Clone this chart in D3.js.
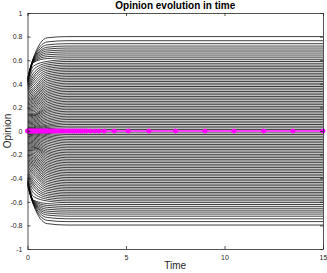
<!DOCTYPE html>
<html>
<head>
    <title>Opinion evolution in time</title>
    <script src="https://d3js.org/d3.v7.min.js"></script>
    <style>
        body { margin: 0; background: #fff; }
        text { font-family: "Liberation Sans", Arial, sans-serif; }
    </style>
</head>
<body>
<div id="chart"></div>
<script>
    const knotTimes = [0, 0.3, 1, 2, 5, 15];

    // upper half trajectories (opinion at each knot time)
    const upStart = [0.45, 0.445, 0.44, 0.435, 0.43, 0.425, 0.42, 0.415, 0.41, 0.405,
        0.40, 0.39, 0.38, 0.37, 0.36, 0.35, 0.34, 0.33, 0.32, 0.31, 0.30, 0.29, 0.28, 0.27, 0.26,
        0.25, 0.24, 0.23, 0.22, 0.21, 0.20, 0.19, 0.18, 0.17, 0.16, 0.15, 0.14, 0.13,
        0.12, 0.11, 0.10, 0.09, 0.08, 0.07, 0.06, 0.05, 0.04, 0.03, 0.025, 0.02, 0.015, 0.01, 0.005];
    const upT03 = [0.62, 0.615, 0.61, 0.605, 0.60, 0.596, 0.592, 0.588, 0.584, 0.58,
        0.55, 0.52, 0.49, 0.465, 0.445, 0.425, 0.405, 0.385, 0.365, 0.35, 0.335, 0.32, 0.305, 0.292, 0.28,
        0.27, 0.258, 0.246, 0.234, 0.222, 0.21, 0.198, 0.186, 0.174, 0.162, 0.15, 0.14, 0.132,
        0.125, 0.115, 0.105, 0.095, 0.085, 0.075, 0.065, 0.055, 0.045, 0.035, 0.028, 0.021, 0.015, 0.009, 0.004];
    const upT1 = [0.79, 0.755, 0.73, 0.71, 0.694, 0.678, 0.662, 0.646, 0.63, 0.614,
        0.59, 0.575, 0.56, 0.545, 0.53, 0.515, 0.5, 0.485, 0.47, 0.455, 0.44, 0.425, 0.41, 0.395, 0.38,
        0.365, 0.35, 0.336, 0.322, 0.308, 0.294, 0.28, 0.266, 0.252, 0.238, 0.224, 0.21, 0.196,
        0.183, 0.17, 0.157, 0.143, 0.129, 0.115, 0.101, 0.088, 0.075, 0.062, 0.05, 0.04, 0.03, 0.02, 0.01];
    const upFinal = [0.80, 0.765, 0.74, 0.72, 0.703, 0.686, 0.67, 0.653, 0.636, 0.62,
        0.604, 0.589, 0.574, 0.559, 0.545, 0.531, 0.517, 0.503, 0.489, 0.475, 0.461, 0.447, 0.433, 0.419, 0.405,
        0.391, 0.377, 0.363, 0.349, 0.335, 0.321, 0.307, 0.293, 0.279, 0.265, 0.251, 0.237, 0.223,
        0.209, 0.195, 0.181, 0.167, 0.153, 0.139, 0.125, 0.111, 0.097, 0.083, 0.069, 0.055, 0.041, 0.027, 0.013];

    // lower half trajectories
    const loStart = [-0.46, -0.455, -0.45, -0.445, -0.44, -0.435, -0.43, -0.425, -0.42, -0.415,
        -0.405, -0.395, -0.385, -0.375, -0.365, -0.355, -0.345, -0.335, -0.325, -0.315, -0.305, -0.295, -0.285, -0.275, -0.265,
        -0.255, -0.245, -0.235, -0.225, -0.215, -0.205, -0.195, -0.185, -0.175, -0.165, -0.155, -0.145, -0.135,
        -0.125, -0.115, -0.105, -0.095, -0.085, -0.075, -0.065, -0.055, -0.045, -0.035, -0.028, -0.021, -0.014, -0.008, -0.003];
    const loT03 = [-0.625, -0.62, -0.615, -0.61, -0.606, -0.602, -0.598, -0.594, -0.59, -0.586,
        -0.555, -0.525, -0.495, -0.47, -0.45, -0.43, -0.41, -0.39, -0.37, -0.355, -0.34, -0.325, -0.31, -0.297, -0.285,
        -0.274, -0.262, -0.25, -0.238, -0.226, -0.214, -0.202, -0.19, -0.178, -0.166, -0.155, -0.145, -0.137,
        -0.13, -0.12, -0.11, -0.1, -0.09, -0.08, -0.07, -0.06, -0.05, -0.04, -0.031, -0.023, -0.015, -0.009, -0.003];
    const loT1 = [-0.785, -0.757, -0.733, -0.712, -0.695, -0.679, -0.663, -0.647, -0.631, -0.615,
        -0.593, -0.578, -0.563, -0.548, -0.533, -0.518, -0.503, -0.488, -0.473, -0.458, -0.443, -0.428, -0.413, -0.398, -0.383,
        -0.368, -0.353, -0.339, -0.325, -0.311, -0.297, -0.283, -0.269, -0.255, -0.241, -0.227, -0.213, -0.199,
        -0.186, -0.173, -0.16, -0.146, -0.132, -0.118, -0.104, -0.09, -0.077, -0.064, -0.052, -0.041, -0.03, -0.02, -0.01];
    const loFinal = [-0.797, -0.768, -0.744, -0.722, -0.704, -0.687, -0.671, -0.655, -0.639, -0.623,
        -0.607, -0.592, -0.577, -0.562, -0.548, -0.534, -0.52, -0.506, -0.492, -0.478, -0.464, -0.45, -0.436, -0.422, -0.408,
        -0.394, -0.38, -0.366, -0.352, -0.338, -0.324, -0.31, -0.296, -0.282, -0.268, -0.254, -0.24, -0.226,
        -0.212, -0.198, -0.184, -0.17, -0.156, -0.142, -0.128, -0.114, -0.1, -0.086, -0.072, -0.058, -0.044, -0.03, -0.016];

    // solver steps of the mean opinion (magenta)
    const meanTimes = [0, 0.02, 0.05, 0.08, 0.12, 0.16, 0.2, 0.25, 0.3, 0.35, 0.4, 0.46, 0.52, 0.58, 0.64,
        0.7, 0.77, 0.84, 0.91, 0.98, 1.05, 1.13, 1.21, 1.29, 1.37, 1.45, 1.54, 1.63, 1.72, 1.81, 1.9,
        2.0, 2.1, 2.2, 2.3, 2.4, 2.5, 2.6, 2.7, 2.8, 2.9, 3.0, 3.2, 3.42, 3.62, 3.89, 4.4, 5.11,
        6.16, 7.51, 9.01, 10.48, 11.99, 13.47, 15];
    const meanValues = meanTimes.map(() => 0);

    const xTicks = [0, 5, 10, 15];
    const yTicks = [-1, -0.8, -0.6, -0.4, -0.2, 0, 0.2, 0.4, 0.6, 0.8, 1];

    const width = 327;
    const height = 273;
    const margin = { top: 13, right: 4, bottom: 24, left: 27.5 };

    const x = d3.scaleLinear()
        .domain([0, 15])
        .range([margin.left, width - margin.right]);

    const y = d3.scaleLinear()
        .domain([-1, 1])
        .range([height - margin.bottom, margin.top]);

    // one row per trajectory; after t=2 every opinion sits on its final value
    const trajectories = [];
    [[upStart, upT03, upT1, upFinal, upFinal, upFinal],
     [loStart, loT03, loT1, loFinal, loFinal, loFinal]].forEach(cols => {
        cols[0].forEach((d, i) => {
            trajectories.push(cols.map((c, k) => [knotTimes[k], c[i]]));
        });
    });

    const svg = d3.select("#chart")
        .append("svg")
        .attr("width", width)
        .attr("height", height);

    svg.append("clipPath").attr("id", "plot")
        .append("rect")
        .attr("x", x(0)).attr("y", y(1))
        .attr("width", x(15) - x(0)).attr("height", y(-1) - y(1));

    const line = d3.line()
        .x(d => x(d[0]))
        .y(d => y(d[1]))
        .curve(d3.curveMonotoneX);

    svg.append("g")
        .attr("clip-path", "url(#plot)")
        .selectAll("path")
        .data(trajectories)
        .join("path")
        .attr("fill", "none")
        .attr("stroke", "#000")
        .attr("stroke-width", 0.75)
        .attr("d", line);

    // mean opinion line with star markers
    const meanLine = d3.line()
        .x((d, i) => x(meanTimes[i]))
        .y(d => y(d));

    svg.append("path")
        .datum(meanValues)
        .attr("fill", "none")
        .attr("stroke", "#ff00ff")
        .attr("stroke-width", 1.5)
        .attr("d", meanLine);

    svg.append("g")
        .selectAll("path")
        .data(meanTimes)
        .join("path")
        .attr("transform", (d, i) => `translate(${x(d)},${y(meanValues[i])})`)
        .attr("d", "M-2.5,0H2.5M0,-2.5V2.5M-1.8,-1.8L1.8,1.8M-1.8,1.8L1.8,-1.8")
        .attr("stroke", "#ff00ff")
        .attr("stroke-width", 1.3)
        .attr("fill", "none");

    // axes, matlab style box with inward ticks
    const fmt = d => String(+d.toFixed(1));
    const axisColor = "#262626";

    const gBottom = svg.append("g")
        .attr("transform", `translate(0,${y(-1)})`)
        .call(d3.axisBottom(x).tickValues(xTicks).tickFormat(fmt).tickSizeInner(-3).tickSizeOuter(0).tickPadding(6));
    const gLeft = svg.append("g")
        .attr("transform", `translate(${x(0)},0)`)
        .call(d3.axisLeft(y).tickValues(yTicks).tickFormat(fmt).tickSizeInner(-3).tickSizeOuter(0).tickPadding(5));
    const gTop = svg.append("g")
        .attr("transform", `translate(0,${y(1)})`)
        .call(d3.axisTop(x).tickValues(xTicks).tickFormat("").tickSizeInner(-3).tickSizeOuter(0));
    const gRight = svg.append("g")
        .attr("transform", `translate(${x(15)},0)`)
        .call(d3.axisRight(y).tickValues(yTicks).tickFormat("").tickSizeInner(-3).tickSizeOuter(0));

    [gBottom, gLeft, gTop, gRight].forEach(g => {
        g.selectAll("path, line").attr("stroke", axisColor).attr("stroke-width", 0.8);
        g.selectAll("text").attr("fill", axisColor).style("font-size", "7px");
    });

    svg.append("text")
        .attr("x", (x(0) + x(15)) / 2)
        .attr("y", 9)
        .attr("text-anchor", "middle")
        .style("font-size", "10px")
        .style("font-weight", "bold")
        .text("Opinion evolution in time");

    svg.append("text")
        .attr("x", (x(0) + x(15)) / 2)
        .attr("y", 269)
        .attr("text-anchor", "middle")
        .style("font-size", "10px")
        .attr("fill", axisColor)
        .text("Time");

    svg.append("text")
        .attr("transform", `translate(11,${y(0)}) rotate(-90)`)
        .attr("text-anchor", "middle")
        .style("font-size", "10px")
        .attr("fill", axisColor)
        .text("Opinion");
</script>
</body>
</html>
